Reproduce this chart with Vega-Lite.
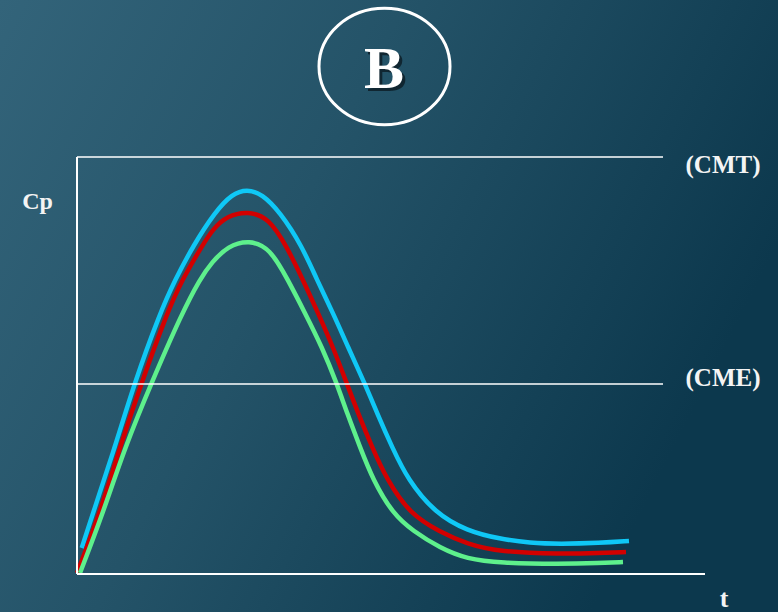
{
  "$schema": "https://vega.github.io/schema/vega-lite/v6.json",
  "width": 778,
  "height": 612,
  "autosize": {"type": "none"},
  "padding": 0,
  "background": "#1d4b60",
  "view": {
    "stroke": null,
    "fill": {
      "gradient": "linear",
      "x1": 0, "y1": 0, "x2": 1, "y2": 0.4,
      "stops": [
        {"offset": 0, "color": "#33647a"},
        {"offset": 0.45, "color": "#245368"},
        {"offset": 1, "color": "#0c384d"}
      ]
    }
  },
  "layer": [
    {
      "data": {"values": [
        {"series": "blue", "t": 4.7, "c": 26},
        {"series": "blue", "t": 16, "c": 61},
        {"series": "blue", "t": 38, "c": 127},
        {"series": "blue", "t": 57, "c": 190},
        {"series": "blue", "t": 83, "c": 261},
        {"series": "blue", "t": 98, "c": 294},
        {"series": "blue", "t": 116, "c": 328},
        {"series": "blue", "t": 138, "c": 362},
        {"series": "blue", "t": 155, "c": 380},
        {"series": "blue", "t": 170, "c": 385},
        {"series": "blue", "t": 185, "c": 380},
        {"series": "blue", "t": 203, "c": 362},
        {"series": "blue", "t": 225, "c": 328},
        {"series": "blue", "t": 240, "c": 294},
        {"series": "blue", "t": 256, "c": 261},
        {"series": "blue", "t": 271, "c": 227},
        {"series": "blue", "t": 288, "c": 190},
        {"series": "blue", "t": 300, "c": 161},
        {"series": "blue", "t": 315, "c": 127},
        {"series": "blue", "t": 331, "c": 94},
        {"series": "blue", "t": 358, "c": 61},
        {"series": "blue", "t": 390, "c": 43},
        {"series": "blue", "t": 423, "c": 35},
        {"series": "blue", "t": 453, "c": 31},
        {"series": "blue", "t": 483, "c": 30},
        {"series": "blue", "t": 523, "c": 31},
        {"series": "blue", "t": 552, "c": 33},
        {"series": "red", "t": 0, "c": 1},
        {"series": "red", "t": 23, "c": 61},
        {"series": "red", "t": 43, "c": 127},
        {"series": "red", "t": 64, "c": 190},
        {"series": "red", "t": 90, "c": 261},
        {"series": "red", "t": 105, "c": 294},
        {"series": "red", "t": 125, "c": 328},
        {"series": "red", "t": 136, "c": 345},
        {"series": "red", "t": 150, "c": 358},
        {"series": "red", "t": 171, "c": 363},
        {"series": "red", "t": 192, "c": 356},
        {"series": "red", "t": 210, "c": 327},
        {"series": "red", "t": 226, "c": 294},
        {"series": "red", "t": 241, "c": 261},
        {"series": "red", "t": 256, "c": 227},
        {"series": "red", "t": 270, "c": 190},
        {"series": "red", "t": 281, "c": 161},
        {"series": "red", "t": 295, "c": 127},
        {"series": "red", "t": 310, "c": 94},
        {"series": "red", "t": 333, "c": 60},
        {"series": "red", "t": 363, "c": 42},
        {"series": "red", "t": 390, "c": 30},
        {"series": "red", "t": 423, "c": 22},
        {"series": "red", "t": 483, "c": 20},
        {"series": "red", "t": 523, "c": 21},
        {"series": "red", "t": 549, "c": 22},
        {"series": "green", "t": 3, "c": 1},
        {"series": "green", "t": 26, "c": 61},
        {"series": "green", "t": 48, "c": 127},
        {"series": "green", "t": 74, "c": 190},
        {"series": "green", "t": 105, "c": 261},
        {"series": "green", "t": 123, "c": 295},
        {"series": "green", "t": 135, "c": 312},
        {"series": "green", "t": 151, "c": 328},
        {"series": "green", "t": 172, "c": 334},
        {"series": "green", "t": 193, "c": 326},
        {"series": "green", "t": 211, "c": 294},
        {"series": "green", "t": 228, "c": 261},
        {"series": "green", "t": 245, "c": 227},
        {"series": "green", "t": 260, "c": 190},
        {"series": "green", "t": 270, "c": 161},
        {"series": "green", "t": 283, "c": 127},
        {"series": "green", "t": 296, "c": 94},
        {"series": "green", "t": 316, "c": 60},
        {"series": "green", "t": 336, "c": 43},
        {"series": "green", "t": 363, "c": 26},
        {"series": "green", "t": 390, "c": 15},
        {"series": "green", "t": 423, "c": 11},
        {"series": "green", "t": 483, "c": 10},
        {"series": "green", "t": 523, "c": 11},
        {"series": "green", "t": 546, "c": 12}
      ]},
      "mark": {"type": "line", "interpolate": "basis", "strokeWidth": 4.5, "strokeCap": "butt"},
      "encoding": {
        "x": {"field": "t", "type": "quantitative", "scale": {"domain": [-77, 701], "nice": false, "zero": false}, "axis": null},
        "y": {"field": "c", "type": "quantitative", "scale": {"domain": [-38, 574], "nice": false, "zero": false}, "axis": null},
        "color": {"field": "series", "type": "nominal", "scale": {"domain": ["blue", "red", "green"], "range": ["#0fc8f6", "#d20000", "#5ef08c"]}, "legend": null},
        "order": {"field": "t", "type": "quantitative"}
      }
    },
    {
      "data": {"values": [{"k": 1}]},
      "mark": {"type": "rule", "color": "#ffffff", "strokeWidth": 2},
      "encoding": {"x": {"datum": 0, "type": "quantitative"}, "y": {"datum": 0, "type": "quantitative"}, "y2": {"datum": 417}}
    },
    {
      "data": {"values": [{"k": 1}]},
      "mark": {"type": "rule", "color": "#ffffff", "strokeWidth": 2},
      "encoding": {"x": {"datum": 0, "type": "quantitative"}, "x2": {"datum": 628}, "y": {"datum": 0, "type": "quantitative"}}
    },
    {
      "data": {"values": [{"k": 1}]},
      "mark": {"type": "rule", "color": "#ffffff", "strokeWidth": 1.6},
      "encoding": {"x": {"datum": 0, "type": "quantitative"}, "x2": {"datum": 586}, "y": {"datum": 417, "type": "quantitative"}}
    },
    {
      "data": {"values": [{"k": 1}]},
      "mark": {"type": "rule", "color": "#ffffff", "strokeWidth": 1.6},
      "encoding": {"x": {"datum": 0, "type": "quantitative"}, "x2": {"datum": 586}, "y": {"datum": 190, "type": "quantitative"}}
    },
    {
      "data": {"values": [{"k": 1}]},
      "mark": {"type": "point", "shape": "M -1 0 A 1 0.89 0 1 0 1 0 A 1 0.89 0 1 0 -1 0 Z", "size": 17161, "filled": false, "stroke": "#ffffff", "strokeWidth": 3, "opacity": 1},
      "encoding": {"x": {"datum": 307.5, "type": "quantitative"}, "y": {"datum": 507.5, "type": "quantitative"}}
    },
    {
      "data": {"values": [{"k": 1}]},
      "mark": {"type": "text", "text": "B", "font": "Liberation Serif", "fontWeight": "bold", "fontSize": 60, "align": "center", "baseline": "alphabetic", "color": "#0a1820", "opacity": 0.75, "dx": 3, "dy": 3},
      "encoding": {"x": {"datum": 307, "type": "quantitative"}, "y": {"datum": 486, "type": "quantitative"}}
    },
    {
      "data": {"values": [{"k": 1}]},
      "mark": {"type": "text", "text": "B", "font": "Liberation Serif", "fontWeight": "bold", "fontSize": 60, "align": "center", "baseline": "alphabetic", "color": "#ffffff"},
      "encoding": {"x": {"datum": 307, "type": "quantitative"}, "y": {"datum": 486, "type": "quantitative"}}
    },
    {
      "data": {"values": [{"k": 1}]},
      "mark": {"type": "text", "text": "Cp", "font": "Liberation Serif", "fontWeight": "bold", "fontSize": 24, "align": "center", "baseline": "alphabetic", "color": "#f4f4f4"},
      "encoding": {"x": {"datum": -39.5, "type": "quantitative"}, "y": {"datum": 365, "type": "quantitative"}}
    },
    {
      "data": {"values": [{"k": 1}]},
      "mark": {"type": "text", "text": "(CMT)", "font": "Liberation Serif", "fontWeight": "bold", "fontSize": 25, "align": "center", "baseline": "alphabetic", "color": "#f4f4f4"},
      "encoding": {"x": {"datum": 646, "type": "quantitative"}, "y": {"datum": 401, "type": "quantitative"}}
    },
    {
      "data": {"values": [{"k": 1}]},
      "mark": {"type": "text", "text": "(CME)", "font": "Liberation Serif", "fontWeight": "bold", "fontSize": 25, "align": "center", "baseline": "alphabetic", "color": "#f4f4f4"},
      "encoding": {"x": {"datum": 646, "type": "quantitative"}, "y": {"datum": 188, "type": "quantitative"}}
    },
    {
      "data": {"values": [{"k": 1}]},
      "mark": {"type": "text", "text": "t", "font": "Liberation Serif", "fontWeight": "bold", "fontSize": 26, "align": "center", "baseline": "alphabetic", "color": "#f4f4f4"},
      "encoding": {"x": {"datum": 647, "type": "quantitative"}, "y": {"datum": -33, "type": "quantitative"}}
    }
  ]
}
